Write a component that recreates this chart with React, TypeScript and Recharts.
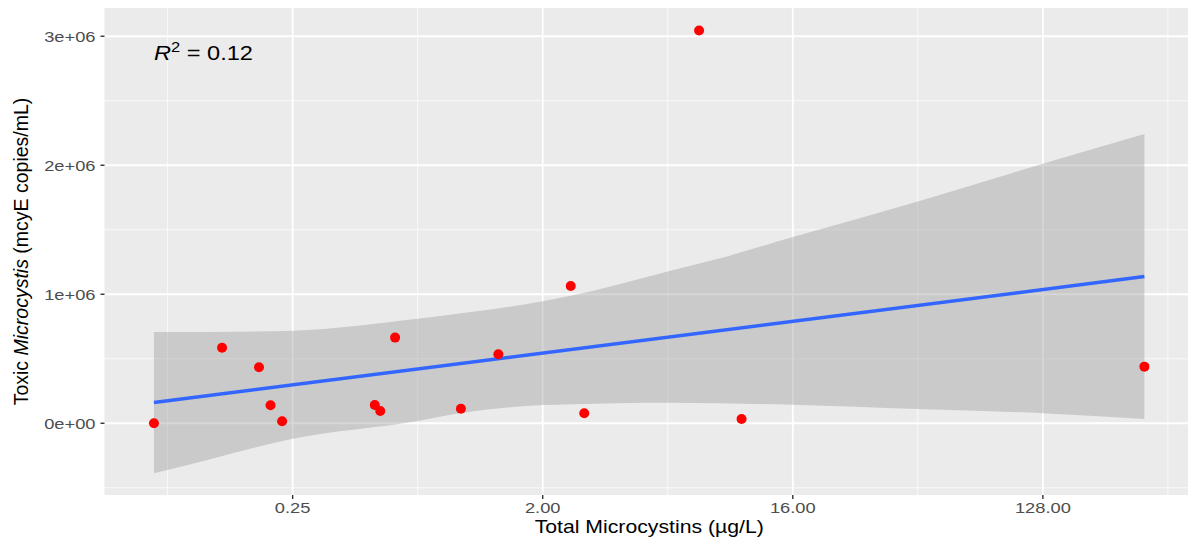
import React from "react";
import { ComposedChart, Scatter, Area, Line, XAxis, YAxis, CartesianGrid } from "recharts";

// total microcystins (µg/L) vs toxic Microcystis (mcyE copies/mL)
const mcTotal = [0.0789, 0.139, 0.189, 0.208, 0.229, 0.495, 0.518, 0.586, 1.013, 1.383, 2.525, 2.825, 7.34, 10.45, 297.8];
const mcyeCopies = [0, 586000, 434000, 140000, 16000, 142000, 95000, 664000, 113000, 535000, 1064000, 77000, 3044000, 33000, 439000];

// lm fit and its 95% band
const fitX = [0.0789, 297.8];
const fitY = [161000, 1137000];
const bandX = [0.0789, 0.125, 0.25, 0.7071, 1, 2, 2.546, 5.61, 8.74, 16, 45.25, 128, 297.8];
const bandUpper = [708000, 708000, 718000, 810000, 850000, 945000, 990000, 1175000, 1279000, 1443000, 1719000, 2012000, 2242000];
const bandLower = [-388000, -280000, -120000, 18000, 78000, 141000, 148000, 160000, 155000, 143000, 110000, 78000, 33000];

const xTicks = [0.25, 2, 16, 128];
const xMinor = [0.0884, 0.7071, 5.657, 45.25, 362];
const xDomain = [0.0523, 449.8];
const yTicks = [0, 1000000, 2000000, 3000000];
const yMinor = [-500000, 500000, 1500000, 2500000];
const yDomain = [-556000, 3219000];

const rLabel = { x: 0.0789, y: 2870000 };

const points = mcTotal.map((x, i) => ({ x, y: mcyeCopies[i] }));
const fit = fitX.map((x, i) => ({ x, y: fitY[i] }));
const band = bandX.map((x, i) => ({ x, band: [bandLower[i], bandUpper[i]] }));

const FONT = "'Liberation Sans', Arial, sans-serif";
const STRETCH = 1.18;

function XTick({ x, y, payload }: any) {
  return (
    <text transform={`translate(${x},${y}) scale(${STRETCH},1)`} textAnchor="middle" dy="0.71em"
      fontSize={15.5} fill="#4d4d4d" fontFamily={FONT}>
      {Number(payload.value).toFixed(2)}
    </text>
  );
}

function YTick({ x, y, payload }: any) {
  const v = Number(payload.value);
  const s = v === 0 ? "0e+00" : `${v / 1e6}e+06`;
  return (
    <text transform={`translate(${x},${y}) scale(${STRETCH},1)`} textAnchor="end" dy="0.355em"
      fontSize={15.5} fill="#4d4d4d" fontFamily={FONT}>
      {s}
    </text>
  );
}

function XTitle({ viewBox }: any) {
  const cx = viewBox.x + viewBox.width / 2;
  return (
    <text transform={`translate(${cx},${viewBox.y + 38}) scale(${STRETCH},1)`} textAnchor="middle"
      fontSize={18} fill="#000" fontFamily={FONT}>
      Total Microcystins (µg/L)
    </text>
  );
}

function YTitle({ viewBox }: any) {
  const cy = viewBox.y + viewBox.height / 2;
  return (
    <text transform={`translate(21,${cy}) rotate(-90)`} textAnchor="middle" dominantBaseline="central"
      fontSize={19.5} fill="#000" fontFamily={FONT}>
      Toxic <tspan fontStyle="italic">Microcystis</tspan> (mcyE copies/mL)
    </text>
  );
}

function Dot(p: any) {
  return <circle cx={p.cx} cy={p.cy} r={5} fill="#ff0000" />;
}

function RSquared(p: any) {
  return (
    <text transform={`translate(${p.cx},${p.cy}) scale(${STRETCH},1)`} dy="0.35em" fontSize={20} fill="#000" fontFamily={FONT}>
      <tspan fontStyle="italic">R</tspan>
      <tspan fontSize={14} dy="-8">2</tspan>
      <tspan dy="8"> = 0.12</tspan>
    </text>
  );
}

export default function App() {
  return (
    <div style={{ position: "fixed", left: 0, top: 0, width: 1188, height: 550, overflow: "hidden", background: "#fff" }}>
      <ComposedChart width={1200} height={550} margin={{ top: 8, right: 6, bottom: 0, left: 0 }}>
        <CartesianGrid fill="#ebebeb" stroke="#ffffff" strokeWidth={0.8} strokeOpacity={0.9}
          horizontalValues={yMinor} verticalValues={xMinor} />
        <CartesianGrid stroke="#ffffff" strokeWidth={1.8} horizontalValues={yTicks} verticalValues={xTicks} />
        <XAxis dataKey="x" type="number" scale="log" domain={xDomain} allowDataOverflow ticks={xTicks}
          axisLine={false} tickSize={4} tickMargin={3} tickLine={{ stroke: "#333333", strokeWidth: 1.4 }}
          tick={<XTick />} height={55} label={XTitle} />
        <YAxis type="number" domain={yDomain} allowDataOverflow ticks={yTicks} width={104.5}
          axisLine={false} tickSize={4} tickMargin={5} tickLine={{ stroke: "#333333", strokeWidth: 1.4 }}
          tick={<YTick />} label={YTitle} />
        <Scatter data={points} dataKey="y" shape={Dot} isAnimationActive={false} />
        <Area data={band} dataKey="band" type="monotone" fill="#999999" fillOpacity={0.4} stroke="none"
          isAnimationActive={false} />
        <Line data={fit} dataKey="y" type="linear" stroke="#3366ff" strokeWidth={3.5} dot={false}
          isAnimationActive={false} />
        <Scatter data={[rLabel]} dataKey="y" shape={RSquared} isAnimationActive={false} />
      </ComposedChart>
    </div>
  );
}
